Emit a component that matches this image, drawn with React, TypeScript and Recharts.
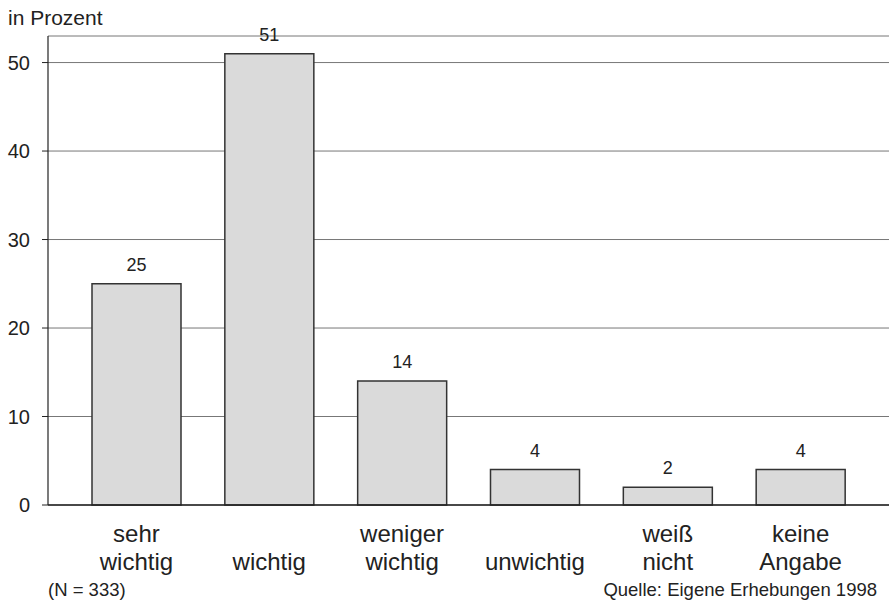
import { Bar, BarChart, CartesianGrid, LabelList, XAxis, YAxis } from "recharts";

const categories = ["sehr wichtig", "wichtig", "weniger wichtig", "unwichtig", "weiß nicht", "keine Angabe"];
const labelTop = ["sehr", "", "weniger", "", "weiß", "keine"];
const labelBottom = ["wichtig", "wichtig", "wichtig", "unwichtig", "nicht", "Angabe"];
const percent = [25, 51, 14, 4, 2, 4];
const yTicks = [0, 10, 20, 30, 40, 50];

const data = categories.map((name, i) => ({ name, value: percent[i] }));

const font = "'Liberation Sans', Arial, sans-serif";

function CategoryTick(props: any) {
  const { x, payload } = props;
  const i = payload.index;
  return (
    <g>
      <text x={x} y={542} textAnchor="middle" fontSize={24} fill="#222" fontFamily={font}>
        {labelTop[i]}
      </text>
      <text x={x} y={570} textAnchor="middle" fontSize={24} fill="#222" fontFamily={font}>
        {labelBottom[i]}
      </text>
    </g>
  );
}

export default function App() {
  return (
    <div style={{ position: "absolute", left: 0, top: 0, width: 889, height: 616, background: "#fff", fontFamily: font }}>
      <div style={{ position: "absolute", left: 8, top: 6, fontSize: 21, color: "#222", lineHeight: "normal" }}>in Prozent</div>
      <BarChart
        width={889}
        height={616}
        data={data}
        margin={{ top: 36, right: 0, bottom: 81, left: 0 }}
        barCategoryGap={22}
      >
        <CartesianGrid vertical={false} stroke="#777" strokeWidth={1} />
        <XAxis
          dataKey="name"
          height={30}
          axisLine={{ stroke: "#222", strokeWidth: 1.5 }}
          tickLine={false}
          padding={{ left: 22, right: 22 }}
          tick={<CategoryTick />}
          interval={0}
        />
        <YAxis
          width={48}
          domain={[0, 53]}
          ticks={yTicks}
          axisLine={{ stroke: "#222", strokeWidth: 1.2 }}
          tickLine={{ stroke: "#222" }}
          tickSize={6}
          tickMargin={12}
          tick={{ fontSize: 20, fill: "#222", fontFamily: font }}
        />
        <Bar dataKey="value" fill="#dadada" stroke="#333" strokeWidth={1.5} isAnimationActive={false}>
          <LabelList dataKey="value" position="top" offset={13} fontSize={18} fill="#222" fontFamily={font} />
        </Bar>
      </BarChart>
      <div style={{ position: "absolute", left: 48, top: 579, fontSize: 18.5, color: "#222", lineHeight: "normal" }}>(N = 333)</div>
      <div style={{ position: "absolute", right: 12, top: 579, fontSize: 18.5, color: "#222", lineHeight: "normal" }}>
        Quelle: Eigene Erhebungen 1998
      </div>
    </div>
  );
}
